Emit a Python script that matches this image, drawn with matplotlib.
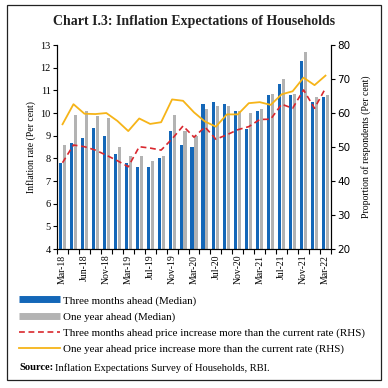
import numpy as np
import matplotlib
matplotlib.use('Agg')
import matplotlib.pyplot as plt
from matplotlib.lines import Line2D
from matplotlib.patches import Rectangle

plt.rcParams['font.family'] = ['Liberation Serif', 'DejaVu Serif']

# survey rounds (bi-monthly)
rounds = ['Mar-18', 'May-18', 'Jun-18', 'Sep-18', 'Nov-18', 'Dec-18', 'Mar-19', 'May-19',
          'Jul-19', 'Sep-19', 'Nov-19', 'Jan-20', 'Mar-20', 'May-20', 'Jul-20', 'Sep-20',
          'Nov-20', 'Jan-21', 'Mar-21', 'May-21', 'Jul-21', 'Sep-21', 'Nov-21', 'Jan-22', 'Mar-22']
tick_labels = ['Mar-18', 'Jun-18', 'Nov-18', 'Mar-19', 'Jul-19', 'Nov-19', 'Mar-20',
               'Jul-20', 'Nov-20', 'Mar-21', 'Jul-21', 'Nov-21', 'Mar-22']

# median inflation expectations (per cent, LHS)
three_month = [7.8, 8.7, 8.9, 9.35, 9.0, 8.2, 7.8, 7.6, 7.6, 8.0, 9.2, 8.6, 8.5,
               10.4, 10.5, 10.4, 10.1, 9.3, 10.1, 10.8, 11.3, 10.8, 12.3, 10.5, 10.7]
one_year = [8.6, 9.9, 10.1, 9.85, 9.8, 8.5, 8.1, 8.1, 7.9, 8.1, 9.9, 9.2, 9.0,
            10.2, 10.3, 10.3, 10.1, 10.0, 10.2, 10.85, 11.5, 10.85, 12.7, 10.7, 10.8]

# proportion of respondents expecting price increase above current rate (RHS)
three_month_more = [45.4, 50.6, 50.1, 49.1, 47.6, 46.0, 44.2, 50.1, 49.7, 49.1, 52.4, 56.2, 52.9,
                    55.9, 52.3, 53.6, 55.1, 56.0, 58.1, 58.2, 62.6, 61.4, 66.8, 61.4, 67.3]
one_year_more = [56.7, 62.6, 59.8, 59.7, 60.0, 57.7, 54.7, 58.4, 56.8, 57.3, 64.0, 63.6, 60.2,
                 57.5, 56.0, 59.6, 59.6, 62.9, 63.2, 62.4, 65.5, 66.4, 70.4, 68.2, 71.0]

blue = '#1467b8'
grey = '#b3b3b3'
red = '#d9272e'
yellow = '#f6b418'

fig = plt.figure(figsize=(3.88, 3.88), dpi=100)
ax = fig.add_axes([0.147, 0.358, 0.706, 0.526])
ax2 = ax.twinx()

x = np.arange(len(rounds))
ax.bar(x - 0.18, three_month, width=0.28, color=blue, zorder=2)
ax.bar(x + 0.18, one_year, width=0.28, color=grey, zorder=2)
ax2.plot(x, three_month_more, color=red, lw=1.2, ls=(0, (3.5, 2.2)))
ax2.plot(x, one_year_more, color=yellow, lw=1.3)

ax.set_xlim(-0.5, len(rounds) - 0.5)
ax.set_ylim(4, 13)
ax.set_yticks(range(4, 14))
ax2.set_ylim(20, 80)
ax2.set_yticks(range(20, 81, 10))

label_pos = [rounds.index(t) for t in tick_labels]
ax.set_xticks(label_pos)
ax.set_xticklabels(tick_labels, rotation=90, fontsize=7)
ax.tick_params(axis='x', which='major', length=0, pad=4)
ax.set_xticks(np.arange(-0.5, len(rounds), 1), minor=True)
ax.tick_params(axis='x', which='minor', length=3.5, width=0.8, direction='out')

ax.tick_params(axis='y', labelsize=7.5, length=3, width=0.8, pad=1.5)
ax2.tick_params(axis='y', labelsize=7.5, length=3, width=0.8, pad=1.5)
for lab in ax2.get_yticklabels():
    lab.set_fontfamily('DejaVu Sans')

ax.set_ylabel('Inflation rate (Per cent)', fontsize=7, labelpad=3)
ax2.set_ylabel('Proportion of respondents (Per cent)', fontsize=7, rotation=90, labelpad=8)

for a in (ax, ax2):
    a.spines['top'].set_visible(False)
    for s in ('left', 'right', 'bottom'):
        a.spines[s].set_linewidth(0.8)

fig.text(0.5, 0.944, 'Chart I.3: Inflation Expectations of Households',
         ha='center', va='center', fontsize=10, fontweight='bold', color='#222222')

handles = [Line2D([], [], color=blue, lw=5, solid_capstyle='butt'),
           Line2D([], [], color=grey, lw=5, solid_capstyle='butt'),
           Line2D([], [], color=red, lw=1.2, ls=(0, (3.5, 2.2))),
           Line2D([], [], color=yellow, lw=1.3)]
labels = ['Three months ahead (Median)',
          'One year ahead (Median)',
          'Three months ahead price increase more than the current rate (RHS)',
          'One year ahead price increase more than the current rate (RHS)']
fig.legend(handles, labels, loc='upper left', bbox_to_anchor=(0.05, 0.238),
           frameon=False, fontsize=7.9, handlelength=3.7, handletextpad=0.3,
           labelspacing=0.56, borderaxespad=0, borderpad=0)

fig.text(0.049, 0.052, 'Source:', fontsize=7.6, fontweight='bold', va='center')
fig.text(0.142, 0.052, 'Inflation Expectations Survey of Households, RBI.', fontsize=7.6, va='center')

fig.patches.append(Rectangle((0.018, 0.02), 0.964, 0.967, transform=fig.transFigure,
                             fill=False, edgecolor='#222222', lw=0.9))

fig.savefig('out.png', dpi=100)
